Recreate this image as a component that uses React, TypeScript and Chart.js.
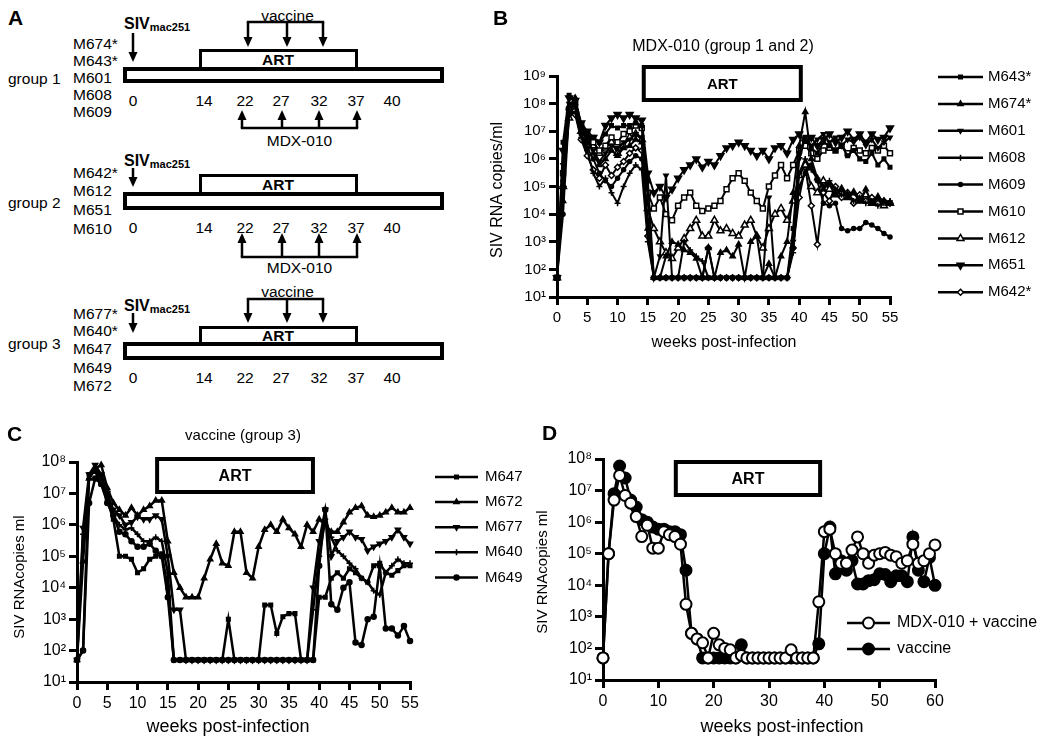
import React, { useEffect, useRef } from 'react';
import { Chart, registerables } from 'chart.js';
import { drawPoint } from 'chart.js/helpers';

Chart.register(...registerables);

const FONT = '"Liberation Sans", Arial, Helvetica, sans-serif';
const SUP = ['⁰', '¹', '²', '³', '⁴', '⁵', '⁶', '⁷', '⁸', '⁹'];

// ---------------- Panel A (schematic) ----------------
const scheduleTicks = ['0', '14', '22', '27', '32', '37', '40'];
const group1Names = ['M674*', 'M643*', 'M601', 'M608', 'M609'];
const group2Names = ['M642*', 'M612', 'M651', 'M610'];
const group3Names = ['M677*', 'M640*', 'M647', 'M649', 'M672'];

// ---------------- Panel B data ----------------
const weeksB = [0, 1, 2, 3, 4, 5, 6, 7, 8, 9, 10, 11, 12, 13, 14, 15, 16, 17, 18, 19, 20, 21, 22, 23, 24, 25, 26, 27, 28, 29, 30, 31, 32, 33, 34, 35, 36, 37, 38, 39, 40, 41, 42, 43, 44, 45, 46, 47, 48, 49, 50, 51, 52, 53, 54, 55];
const namesB = ['M643*', 'M674*', 'M601', 'M608', 'M609', 'M610', 'M612', 'M651', 'M642*'];
const m643 = [50, 4e6, 2e8, 1.3e8, 1.6e7, 8e6, 6e6, 4e6, 8e6, 1.6e7, 1.3e7, 1.6e7, 1.6e7, 2e7, 1.6e7, 1.6e5,
  50, 50, 50, 50, 50, 50, 50, 50, 50, 50, 50, 50, 50, 50, 50, 50, 50, 50, 50, 50, 50, 50, 50,
  3e3, 1.6e6, 6e6, 2.5e6, 1.6e6, 4e6, 3e6, 2e6, 3e6, 1.3e6, 2e6, 1e6, 8e5, 1.6e6, 6e5, 1e6, 5e5];
const m674 = [50, 3e4, 8e7, 1.6e8, 1.6e7, 6e6, 1.6e6, 6e5, 1e6, 2e6, 1.3e6, 2.5e6, 3e6, 5e6, 4e6, 3e3,
  50, 50, 300, 1e3, 800, 500, 400, 250, 50, 600, 50, 400, 500, 300, 800, 50, 1e3, 1.6e3, 50, 160, 50, 300, 1e3,
  6e4, 3e6, 5e7, 1e6, 2e5, 8e4, 1.3e5, 5e4, 8e4, 4e4, 6e4, 3e4, 8e4, 2.5e4, 4e4, 3e4, 2.5e4];
const m601 = [50, 6e5, 1e8, 8e7, 1.3e7, 4e6, 2e6, 8e5, 1.6e6, 3e6, 2.5e6, 4e6, 5e6, 8e6, 6e6, 4e4,
  50, 300, 2.5e5, 50, 50, 50, 50, 50, 50, 50, 50, 50, 50, 50, 50, 50, 50, 50, 50, 4e4, 50, 50, 50,
  1e3, 1e6, 6e6, 3e6, 5e6, 8e6, 4e6, 6e6, 3e6, 5e6, 4e6, 6e6, 3e6, 5e6, 2.5e6, 4e6, 6e6];
const m608 = [50, 1.6e5, 4e7, 5e7, 6e6, 2e6, 3e5, 1e5, 2e5, 6e4, 2.5e4, 1e5, 3e5, 6e5, 4e5, 1e3,
  50, 50, 50, 50, 50, 1e3, 500, 300, 200, 50, 50, 50, 50, 50, 50, 50, 50, 50, 50, 50, 50, 50, 50,
  400, 3e5, 1e6, 4e5, 2e5, 1e5, 1.6e5, 8e4, 5e4, 6e4, 3e4, 4e4, 2.5e4, 3e4, 2e4, 2.5e4, 3e4];
const m609 = [50, 1e4, 5e7, 1e8, 8e6, 2.5e6, 1e6, 3e5, 1.6e5, 1e5, 2e5, 4e5, 8e5, 1.3e6, 1e6, 6e3,
  50, 50, 50, 50, 50, 50, 50, 50, 50, 50, 50, 50, 50, 50, 50, 50, 50, 50, 50, 50, 50, 50, 50,
  600, 1e5, 3e5, 6e5, 1.6e5, 2.5e4, 2e4, 2.5e4, 3e3, 2.5e3, 3e3, 3e3, 5e3, 4e3, 3e3, 2e3, 1.5e3];
const m610 = [50, 3e5, 6e7, 1e8, 1.6e7, 8e6, 4e6, 2e6, 3e6, 6e6, 4e6, 8e6, 1e7, 1.6e7, 1.3e7, 6e4,
  1.6e4, 4e4, 1e4, 6e3, 2e4, 4e4, 6e4, 2e4, 1.3e4, 1.6e4, 2e4, 3e4, 8e4, 2e5, 3e5, 1.6e5, 6e4, 3e4, 1.6e4, 1e5, 2.5e5, 6e5, 2e5,
  6e5, 2e6, 3e6, 1.6e6, 1e6, 2e6, 2.5e6, 2e6, 3e6, 1.6e6, 2.5e6, 2e6, 1.6e6, 2.5e6, 2e6, 3e6, 1.6e6];
const m612 = [50, 1e5, 3e7, 6e7, 1e7, 5e6, 3e6, 1.6e6, 2.5e6, 4e6, 1.6e6, 3e6, 6e6, 8e6, 5e6, 1.6e4,
  3e3, 1e3, 400, 250, 600, 1.3e3, 3e3, 6e3, 1.6e3, 1.6e3, 6e3, 2.5e3, 3e3, 2e3, 1.6e3, 4e3, 6e3, 1.6e3, 600, 3e3, 1e4, 1.6e4, 6e3,
  3e4, 2.5e5, 6e5, 1e5, 6e4, 1.6e5, 8e4, 5e4, 8e4, 4e4, 6e4, 3e4, 5e4, 2.5e4, 4e4, 2e4, 2.5e4];
const m651 = [50, 2e6, 1.6e8, 1.3e8, 2e7, 1e7, 6e6, 4e6, 1.6e7, 3e7, 4e7, 3e7, 4e7, 3e7, 2.5e7, 3e5,
  6e4, 1e5, 4e4, 8e4, 2e5, 4e5, 6e5, 1e6, 5e5, 8e5, 6e5, 1.3e6, 2.5e6, 3e6, 4e6, 3e6, 2e6, 1.3e6, 2e6, 1e6, 2.5e6, 3e6, 1.6e6,
  5e6, 8e6, 4e6, 6e6, 3e6, 5e6, 8e6, 4e6, 6e6, 1e7, 5e6, 8e6, 4e6, 8e6, 5e6, 6e6, 1.3e7];
const m642 = [50, 1e5, 6e7, 4e7, 5e6, 1.3e6, 4e5, 2e5, 6e5, 2.5e5, 5e5, 8e5, 1.6e6, 2.5e6, 2e6, 1.6e3,
  50, 50, 50, 50, 50, 50, 50, 50, 50, 600, 50, 50, 50, 50, 50, 50, 50, 50, 50, 50, 50, 50, 50,
  600, 4e4, 5e5, 2e4, 800, 6e4, 3e4, 1e5, 4e4, 6e4, 2.5e4, 5e4, 3e4, 4e4, 2.5e4, 3e4, 2.5e4];
const valuesB = [m643, m674, m601, m608, m609, m610, m612, m651, m642];
const yTicksB = [1e1, 1e2, 1e3, 1e4, 1e5, 1e6, 1e7, 1e8, 1e9];
const artB = [14, 40.6];

// ---------------- Panel C data ----------------
const weeksC = [0, 1, 2, 3, 4, 5, 6, 7, 8, 9, 10, 11, 12, 13, 14, 15, 16, 17, 18, 19, 20, 21, 22, 23, 24, 25, 26, 27, 28, 29, 30, 31, 32, 33, 34, 35, 36, 37, 38, 39, 40, 41, 42, 43, 44, 45, 46, 47, 48, 49, 50, 51, 52, 53, 54, 55];
const namesC = ['M647', 'M672', 'M677', 'M640', 'M649'];
const m647 = [50, 100, 4e7, 5e7, 2e7, 6e6, 1.5e6, 1e5, 1e5, 8e4, 3e4, 4e4, 8e4, 1e5, 1.2e5, 1e4,
  50, 50, 50, 50, 50, 50, 50, 50, 50, 1e3, 50, 50, 50, 50, 50, 2.8e3, 2.8e3, 3.5e2, 1.2e3, 1.5e3, 1.5e3, 50, 50, 50,
  5e3, 5e3, 2e4, 3e4, 2e4, 4e4, 3e4, 2e4, 1.5e4, 5e4, 6e4, 3e4, 2.5e4, 3.5e4, 5e4, 5e4];
const m672 = [50, 7e4, 3e7, 6e7, 8e7, 1.5e7, 5e6, 3e6, 2e6, 3.5e6, 2e6, 3e6, 4e6, 6e6, 6e6, 3e5,
  3e4, 1e4, 5e3, 5e3, 5e3, 2e4, 8e4, 2.5e5, 6e4, 5e4, 6e5, 6e5, 3e4, 2e4, 2e5, 7e5, 1e6, 6e5, 1.5e6, 8e5, 5e5, 2e5, 1e6, 6e5,
  1.5e6, 1e6, 6e5, 6e5, 1.2e6, 2.5e6, 3.5e6, 4e6, 2e6, 1.8e6, 2e6, 2.5e6, 3.5e6, 2.5e6, 2.5e6, 3.5e6];
const m677 = [50, 8e5, 4e7, 8e7, 4e7, 1e7, 3e6, 2e6, 1e6, 1.2e6, 1.8e6, 1.5e6, 1.5e6, 2e6, 1.5e6, 1e5,
  2e3, 2e3, 50, 50, 50, 50, 50, 50, 50, 50, 50, 50, 50, 50, 50, 50, 50, 50, 50, 50, 50, 50, 50, 1e4,
  3e5, 3e6, 1e5, 3e5, 4e5, 6e5, 4e5, 3.5e5, 1.5e5, 2e5, 2.5e5, 3e5, 4e5, 7e5, 4e5, 2.5e5];
const m640 = [50, 5e5, 3e7, 6e7, 3e7, 8e6, 2e6, 1e6, 7e5, 8e5, 5e5, 3e5, 3e5, 4e5, 3e5, 3e4,
  50, 50, 50, 50, 50, 50, 50, 50, 50, 50, 50, 50, 50, 50, 50, 50, 50, 50, 50, 50, 50, 50, 50, 2e3,
  1e5, 1.5e6, 4e5, 1.5e5, 1e5, 6e4, 4e4, 2e4, 1.5e4, 8e3, 6e3, 3e4, 5e4, 8e4, 6e4, 6e4];
const m649 = [50, 100, 5e6, 3e7, 2e7, 5e6, 2e6, 6e5, 5e5, 3e5, 2e5, 2e5, 2.5e5, 1.5e5, 1e5, 5e3,
  50, 50, 50, 50, 50, 50, 50, 50, 50, 50, 50, 50, 50, 50, 50, 50, 50, 50, 50, 50, 50, 50, 50, 50,
  5e4, 3e6, 3e3, 2e3, 1e4, 1.5e4, 180, 150, 1e3, 1.2e3, 5e4, 500, 500, 300, 600, 200];
const valuesC = [m647, m672, m677, m640, m649];
const yTicksC = [1e1, 1e2, 1e3, 1e4, 1e5, 1e6, 1e7, 1e8];
const artC = [12.9, 39.3];

// ---------------- Panel D data ----------------
const weeksD = [0, 1, 2, 3, 4, 5, 6, 7, 8, 9, 10, 11, 12, 13, 14, 15, 16, 17, 18, 19, 20, 21, 22, 23, 24, 25, 26, 27, 28, 29, 30, 31, 32, 33, 34, 35, 36, 37, 38, 39, 40, 41, 42, 43, 44, 45, 46, 47, 48, 49, 50, 51, 52, 53, 54, 55, 56, 57, 58, 59, 60];
const namesD = ['MDX-010 + vaccine', 'vaccine'];
const mdxVaccine = [50, 1e5, 5e6, 3e7, 7e6, 4e6, 1.5e6, 3.5e5, 8e5, 1.5e5, 1.5e5, 5e5, 4e5, 3.5e5, 2e5,
  2.5e3, 300, 200, 150, 50, 300, 130, 100, 90, 50, 60, 50, 50, 50, 50, 50, 50, 50, 50, 90, 50, 50, 50, 50,
  3e3, 5e5, 6e5, 1e5, 5e4, 5e4, 1.3e5, 3.4e5, 1e5, 5e4, 9e4, 1e5, 1.1e5, 9e4, 8e4, 5e4, 6e4, 2e5, 5e4, 6e4, 1e5, 1.9e5];
const vaccineOnly = [50, 1e5, 8e6, 6e7, 2.5e7, 5e6, 3e6, 1.2e6, 1e6, 7e5, 6e5, 6e5, 5e5, 5e5, 4e5,
  3e4, 300, 200, 50, 50, 50, 50, 50, 50, 50, 130, 50, 50, 50, 50, 50, 50, 50, 50, 50, 50, 50, 50, 50,
  140, 1e5, 7e5, 2.3e4, 6e4, 3e4, 6e4, 1.1e4, 1.1e4, 1.4e4, 1.5e4, 2.3e4, 2.2e4, 1.3e4, 2e4, 2e4, 1.3e4, 3.4e5, 3e4, 1.3e4, 7.6e4, 1e4];
const yTicksD = [1e1, 1e2, 1e3, 1e4, 1e5, 1e6, 1e7, 1e8];
const artD = [12.8, 39.6];

// ---------------- styles ----------------
type MStyle = { ps: any; r: number; fill: string; rot?: number };
const stylesB: MStyle[] = [
  { ps: 'rect', r: 2.5, fill: '#000' },
  { ps: 'triangle', r: 3, fill: '#000' },
  { ps: 'triangle', r: 2.5, fill: '#000', rot: 180 },
  { ps: 'cross', r: 3, fill: '#000' },
  { ps: 'circle', r: 2, fill: '#000' },
  { ps: 'rect', r: 3.5, fill: '#fff' },
  { ps: 'triangle', r: 4, fill: '#fff' },
  { ps: 'triangle', r: 4, fill: '#000', rot: 180 },
  { ps: 'rectRot', r: 3, fill: '#fff' },
];
const stylesC: MStyle[] = [
  { ps: 'rect', r: 2.5, fill: '#000' },
  { ps: 'triangle', r: 3, fill: '#000' },
  { ps: 'triangle', r: 3, fill: '#000', rot: 180 },
  { ps: 'cross', r: 3, fill: '#000' },
  { ps: 'circle', r: 2.5, fill: '#000' },
];
const stylesD: MStyle[] = [
  { ps: 'circle', r: 5.5, fill: '#fff' },
  { ps: 'circle', r: 5.5, fill: '#000' },
];

type TextSpec = { t: string; x: number; y: number; size: number; bold?: boolean; rot?: boolean; align?: CanvasTextAlign };
type Spec = {
  art: number[]; artY: number[]; artLw: number; artSize: number;
  texts: TextSpec[];
  legend: { names: string[]; styles: MStyle[]; x0: number; x1: number; tx: number; y0: number; dy: number; size: number; lw: number; pbw: number };
};

function overlay(spec: Spec) {
  return {
    id: 'overlay',
    afterDraw(chart: any) {
      const ctx: CanvasRenderingContext2D = chart.ctx;
      const xs = chart.scales.x;
      ctx.save();
      const a = xs.getPixelForValue(spec.art[0]);
      const b = xs.getPixelForValue(spec.art[1]);
      const lw = spec.artLw;
      const [t0, t1] = spec.artY;
      ctx.fillStyle = '#fff';
      ctx.fillRect(a, t0, b - a, t1 - t0);
      ctx.strokeStyle = '#000';
      ctx.lineWidth = lw;
      ctx.strokeRect(a + lw / 2, t0 + lw / 2, b - a - lw, t1 - t0 - lw);
      ctx.fillStyle = '#000';
      ctx.font = `bold ${spec.artSize}px ${FONT}`;
      ctx.textAlign = 'center';
      ctx.textBaseline = 'middle';
      ctx.fillText('ART', (a + b) / 2, (t0 + t1) / 2 + 1);

      for (const t of spec.texts) {
        ctx.save();
        ctx.font = `${t.bold ? 'bold ' : ''}${t.size}px ${FONT}`;
        ctx.textAlign = t.align || 'center';
        ctx.textBaseline = 'middle';
        ctx.fillStyle = '#000';
        ctx.translate(t.x, t.y);
        if (t.rot) ctx.rotate(-Math.PI / 2);
        ctx.fillText(t.t, 0, 0);
        ctx.restore();
      }

      const L = spec.legend;
      L.names.forEach((name, i) => {
        const y = L.y0 + i * L.dy;
        const st = L.styles[i];
        ctx.beginPath();
        ctx.moveTo(L.x0, y);
        ctx.lineTo(L.x1, y);
        ctx.strokeStyle = '#000';
        ctx.lineWidth = L.lw;
        ctx.stroke();
        ctx.fillStyle = st.fill;
        ctx.strokeStyle = '#000';
        ctx.lineWidth = L.pbw;
        drawPoint(ctx, { pointStyle: st.ps, radius: st.r, rotation: st.rot || 0, borderWidth: L.pbw } as any, (L.x0 + L.x1) / 2, y);
        ctx.fillStyle = '#000';
        ctx.font = `${L.size}px ${FONT}`;
        ctx.textAlign = 'left';
        ctx.textBaseline = 'middle';
        ctx.fillText(name, L.tx, y);
      });
      ctx.restore();
    },
  };
}

function axisCommon() {
  return {
    grid: { drawOnChartArea: false, drawTicks: true, tickLength: 8, tickWidth: 3, tickColor: '#000', lineWidth: 3, color: '#000' },
    border: { display: true, color: '#000', width: 3 },
  };
}

function makeConfig(p: {
  weeks: number[]; values: number[][]; names: string[]; styles: MStyle[];
  xMax: number; xStep: number; yTicks: number[]; area: number[]; tickSize: number;
  lineW: number; pbw: number; spec: Spec;
}) {
  const [l, t, r, b] = p.area;
  const Wy = 70, Hx = 40;
  const datasets = p.values.map((vals, i) => ({
    label: p.names[i],
    data: p.weeks.map((w, j) => ({ x: w, y: vals[j] })),
    borderColor: '#000',
    borderWidth: p.lineW,
    pointStyle: p.styles[i].ps,
    pointRadius: p.styles[i].r,
    pointRotation: p.styles[i].rot || 0,
    pointBackgroundColor: p.styles[i].fill,
    pointBorderColor: '#000',
    pointBorderWidth: p.pbw,
    tension: 0,
    clip: false as any,
    fill: false,
  }));
  const common = axisCommon();
  return {
    type: 'line' as const,
    data: { datasets },
    options: {
      responsive: false,
      animation: false as const,
      devicePixelRatio: 1,
      events: [],
      layout: { padding: { left: l - Wy, top: t, right: 1050 - r, bottom: 737 - b - Hx } },
      plugins: { legend: { display: false }, tooltip: { enabled: false }, title: { display: false } },
      scales: {
        x: {
          type: 'linear' as const,
          min: 0,
          max: p.xMax,
          ...common,
          ticks: { stepSize: p.xStep, color: '#000', font: { family: FONT, size: p.tickSize }, padding: 4, autoSkip: false, maxRotation: 0 },
          afterFit: (s: any) => { s.height = Hx; },
        },
        y: {
          type: 'logarithmic' as const,
          min: p.yTicks[0],
          max: p.yTicks[p.yTicks.length - 1],
          ...common,
          afterBuildTicks: (s: any) => { s.ticks = p.yTicks.map((v) => ({ value: v })); },
          ticks: {
            color: '#000', font: { family: FONT, size: p.tickSize }, padding: 3, autoSkip: false,
            callback: (v: any) => '10' + SUP[Math.round(Math.log10(Number(v)))],
          },
          afterFit: (s: any) => { s.width = Wy; },
        },
      },
    },
    plugins: [overlay(p.spec)],
  };
}

function configB() {
  return makeConfig({
    weeks: weeksB, values: valuesB, names: namesB, styles: stylesB,
    xMax: 55, xStep: 5, yTicks: yTicksB, area: [557, 76, 890, 297], tickSize: 15, lineW: 2, pbw: 1.5,
    spec: {
      art: artB, artY: [65, 102], artLw: 4, artSize: 15,
      texts: [
        { t: 'B', x: 493, y: 19, size: 21, bold: true, align: 'left' },
        { t: 'MDX-010 (group 1 and 2)', x: 723, y: 47, size: 16 },
        { t: 'SIV RNA copies/ml', x: 498, y: 190, size: 16, rot: true },
        { t: 'weeks post-infection', x: 724, y: 343, size: 16 },
      ],
      legend: { names: namesB, styles: stylesB, x0: 938, x1: 983, tx: 988, y0: 77, dy: 26.9, size: 15, lw: 2.5, pbw: 1.5 },
    },
  });
}

function configC() {
  return makeConfig({
    weeks: weeksC, values: valuesC, names: namesC, styles: stylesC,
    xMax: 55, xStep: 5, yTicks: yTicksC, area: [77, 462, 410, 682], tickSize: 16, lineW: 2.5, pbw: 1.5,
    spec: {
      art: artC, artY: [457, 494], artLw: 4, artSize: 16,
      texts: [
        { t: 'C', x: 7, y: 435, size: 21, bold: true, align: 'left' },
        { t: 'vaccine (group 3)', x: 243, y: 436, size: 15 },
        { t: 'SIV RNAcopies ml', x: 20, y: 577, size: 15, rot: true },
        { t: 'weeks post-infection', x: 228, y: 727, size: 18 },
      ],
      legend: { names: namesC, styles: stylesC, x0: 435, x1: 478, tx: 485, y0: 477, dy: 25.1, size: 15, lw: 2.5, pbw: 1.5 },
    },
  });
}

function configD() {
  return makeConfig({
    weeks: weeksD, values: [mdxVaccine, vaccineOnly], names: namesD, styles: stylesD,
    xMax: 60, xStep: 10, yTicks: yTicksD, area: [603, 459, 935, 680], tickSize: 16, lineW: 2.5, pbw: 2,
    spec: {
      art: artD, artY: [460, 497], artLw: 4, artSize: 16,
      texts: [
        { t: 'D', x: 542, y: 434, size: 21, bold: true, align: 'left' },
        { t: 'SIV RNAcopies ml', x: 543, y: 572, size: 15, rot: true },
        { t: 'weeks post-infection', x: 782, y: 727, size: 18 },
      ],
      legend: { names: namesD, styles: stylesD, x0: 847, x1: 890, tx: 897, y0: 623, dy: 26, size: 16, lw: 2.5, pbw: 2 },
    },
  });
}

function ChartCanvas({ make }: { make: () => any }) {
  const ref = useRef<HTMLCanvasElement>(null);
  useEffect(() => {
    const chart = new Chart(ref.current as HTMLCanvasElement, make());
    return () => chart.destroy();
  }, []);
  return (
    <canvas ref={ref} width={1050} height={737}
      style={{ position: 'absolute', left: 0, top: 0, width: 1050, height: 737 }} />
  );
}

// ---------------- Panel A SVG ----------------
function Arr({ x, from, to }: { x: number; from: number; to: number }) {
  const dir = to > from ? 1 : -1;
  const hl = 10, hw = 4.5;
  return (
    <g>
      <line x1={x} y1={from} x2={x} y2={to - dir * (hl - 1)} stroke="#000" strokeWidth={2.5} />
      <polygon points={`${x},${to} ${x - hw},${to - dir * hl} ${x + hw},${to - dir * hl}`} fill="#000" />
    </g>
  );
}

const tickXs = [133, 204, 245, 281, 319, 356, 392];
const vacXs = [248, 287, 323];
const mdxXs = [242, 282, 319, 357];

type GroupProps = {
  label: string; labelY: number; names: string[]; nameYs: number[];
  barY: number[]; artY: number[]; sivY: number; sivArrow: number[]; tickY: number;
  vaccine?: { textY: number; bracketY: number; tip: number };
  mdx?: { bracketY: number; tip: number; textY: number };
};

function Group(g: GroupProps) {
  const fs = 15.5;
  return (
    <g fontFamily={FONT} fill="#000">
      <text x={8} y={g.labelY} fontSize={fs} dominantBaseline="central">{g.label}</text>
      {g.names.map((n, i) => (
        <text key={n} x={73} y={g.nameYs[i]} fontSize={fs} dominantBaseline="central">{n}</text>
      ))}
      <text x={124} y={g.sivY} fontSize={16} fontWeight="bold" dominantBaseline="central">
        SIV<tspan fontSize={11} dy={4}>mac251</tspan>
      </text>
      <Arr x={133} from={g.sivArrow[0]} to={g.sivArrow[1]} />
      {g.vaccine && (
        <g>
          <text x={287.5} y={g.vaccine.textY} fontSize={fs} textAnchor="middle" dominantBaseline="central">vaccine</text>
          <line x1={vacXs[0] - 1.2} x2={vacXs[2] + 1.2} y1={g.vaccine.bracketY} y2={g.vaccine.bracketY} stroke="#000" strokeWidth={2.5} />
          {vacXs.map((x) => <Arr key={x} x={x} from={g.vaccine!.bracketY} to={g.vaccine!.tip} />)}
        </g>
      )}
      <rect x={200.5} y={g.artY[0] + 1.5} width={156} height={g.artY[1] - g.artY[0]} fill="#fff" stroke="#000" strokeWidth={3} />
      <text x={278} y={(g.artY[0] + g.artY[1]) / 2 + 1} fontSize={15.5} fontWeight="bold" textAnchor="middle" dominantBaseline="central">ART</text>
      <rect x={125} y={g.barY[0] + 2} width={317} height={g.barY[1] - g.barY[0] - 4} fill="#fff" stroke="#000" strokeWidth={4} />
      {scheduleTicks.map((t, i) => (
        <text key={t} x={tickXs[i]} y={g.tickY} fontSize={fs} textAnchor="middle" dominantBaseline="central">{t}</text>
      ))}
      {g.mdx && (
        <g>
          <line x1={mdxXs[0] - 1.2} x2={mdxXs[3] + 1.2} y1={g.mdx.bracketY} y2={g.mdx.bracketY} stroke="#000" strokeWidth={2.5} />
          {mdxXs.map((x) => <Arr key={x} x={x} from={g.mdx!.bracketY} to={g.mdx!.tip} />)}
          <text x={299.5} y={g.mdx.textY} fontSize={fs} textAnchor="middle" dominantBaseline="central">MDX-010</text>
        </g>
      )}
    </g>
  );
}

function PanelA() {
  return (
    <svg width={470} height={420} style={{ position: 'absolute', left: 0, top: 0 }}>
      <text x={8} y={25} fontSize={21} fontWeight="bold" fontFamily={FONT}>A</text>
      <Group label="group 1" labelY={78} names={group1Names} nameYs={[43, 60, 77, 94, 111]}
        barY={[67, 83]} artY={[49, 68]} sivY={23} sivArrow={[33, 62]} tickY={100}
        vaccine={{ textY: 15, bracketY: 22, tip: 47 }} mdx={{ bracketY: 128, tip: 110, textY: 140 }} />
      <Group label="group 2" labelY={202} names={group2Names} nameYs={[172, 190, 209, 228]}
        barY={[192, 210]} artY={[174, 193]} sivY={160} sivArrow={[168, 187]} tickY={227}
        mdx={{ bracketY: 257, tip: 233, textY: 267 }} />
      <Group label="group 3" labelY={343} names={group3Names} nameYs={[313, 330, 348, 367, 385]}
        barY={[342, 360]} artY={[326, 343]} sivY={305} sivArrow={[313, 333]} tickY={377}
        vaccine={{ textY: 291, bracketY: 299, tip: 323 }} />
    </svg>
  );
}

export default function App() {
  return (
    <div style={{ position: 'absolute', left: 0, top: 0, width: 1050, height: 737, background: '#fff', overflow: 'hidden' }}>
      <PanelA />
      <ChartCanvas make={configB} />
      <ChartCanvas make={configC} />
      <ChartCanvas make={configD} />
    </div>
  );
}
